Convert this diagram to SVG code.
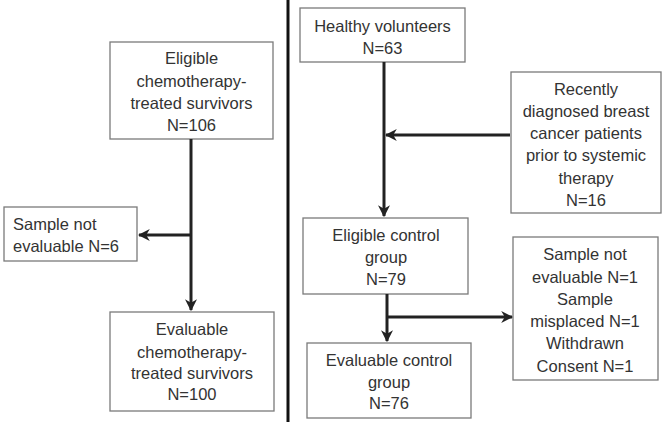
<svg xmlns="http://www.w3.org/2000/svg" width="665" height="425" viewBox="0 0 665 425">
<style>
.box{fill:#fff;stroke:#7a7a7a;stroke-width:1.3}
.t{font-family:"Liberation Sans",Arial,sans-serif;font-size:16.5px;fill:#333;text-anchor:middle}
.tl{text-anchor:start}
.c{fill:none;stroke:#222;stroke-width:3}
</style>
<defs>
<marker id="ah" viewBox="0 0 10 10" refX="9" refY="5" markerWidth="4" markerHeight="4" markerUnits="strokeWidth" orient="auto">
<path d="M0,0 L10,5 L0,10 L3,5 z" fill="#222"/>
</marker>
</defs>
<rect width="665" height="425" fill="#fff"/>
<g id="divider"><line x1="288" y1="0" x2="288" y2="422" stroke="#111" stroke-width="3"/></g>
<g id="n1">
<rect class="box" x="110" y="42" width="163" height="97"/>
<text class="t" x="191.5" y="64">Eligible</text>
<text class="t" x="191.5" y="86.5">chemotherapy-</text>
<text class="t" x="191.5" y="109">treated survivors</text>
<text class="t" x="191.5" y="131">N=106</text>
</g>
<g id="n2">
<rect class="box" x="4" y="207" width="133" height="54"/>
<text class="t tl" x="13" y="230">Sample not</text>
<text class="t tl" x="13" y="252">evaluable N=6</text>
</g>
<g id="n3">
<rect class="box" x="110" y="312" width="164" height="99"/>
<text class="t" x="192" y="335">Evaluable</text>
<text class="t" x="192" y="357.5">chemotherapy-</text>
<text class="t" x="192" y="379">treated survivors</text>
<text class="t" x="192" y="400">N=100</text>
</g>
<g id="n4">
<rect class="box" x="300" y="8" width="165" height="54"/>
<text class="t" x="382.5" y="32">Healthy volunteers</text>
<text class="t" x="382.5" y="54">N=63</text>
</g>
<g id="n5">
<rect class="box" x="511" y="72" width="150" height="141"/>
<text class="t" x="586" y="95">Recently</text>
<text class="t" x="586" y="116.5">diagnosed breast</text>
<text class="t" x="586" y="139">cancer patients</text>
<text class="t" x="586" y="161">prior to systemic</text>
<text class="t" x="586" y="184">therapy</text>
<text class="t" x="586" y="206">N=16</text>
</g>
<g id="n6">
<rect class="box" x="303" y="218" width="165" height="76"/>
<text class="t" x="386" y="241">Eligible control</text>
<text class="t" x="386" y="263">group</text>
<text class="t" x="386" y="285">N=79</text>
</g>
<g id="n7">
<rect class="box" x="513" y="237" width="145" height="143"/>
<text class="t" x="585" y="260">Sample not</text>
<text class="t" x="585" y="283">evaluable N=1</text>
<text class="t" x="585" y="305">Sample</text>
<text class="t" x="585" y="327">misplaced N=1</text>
<text class="t" x="585" y="349">Withdrawn</text>
<text class="t" x="585" y="372">Consent N=1</text>
</g>
<g id="n8">
<rect class="box" x="307" y="343" width="164" height="75"/>
<text class="t" x="389" y="366">Evaluable control</text>
<text class="t" x="389" y="388">group</text>
<text class="t" x="389" y="409">N=76</text>
</g>
<g id="connectors">
<line class="c" x1="191" y1="139" x2="191" y2="310" marker-end="url(#ah)"/>
<line class="c" x1="191" y1="235" x2="139" y2="235" marker-end="url(#ah)"/>
<line class="c" x1="384" y1="62" x2="384" y2="216" marker-end="url(#ah)"/>
<line class="c" x1="510" y1="135" x2="386" y2="135" marker-end="url(#ah)"/>
<line class="c" x1="387" y1="294" x2="387" y2="341" marker-end="url(#ah)"/>
<line class="c" x1="387" y1="317" x2="512" y2="317" marker-end="url(#ah)"/>
</g>
</svg>
